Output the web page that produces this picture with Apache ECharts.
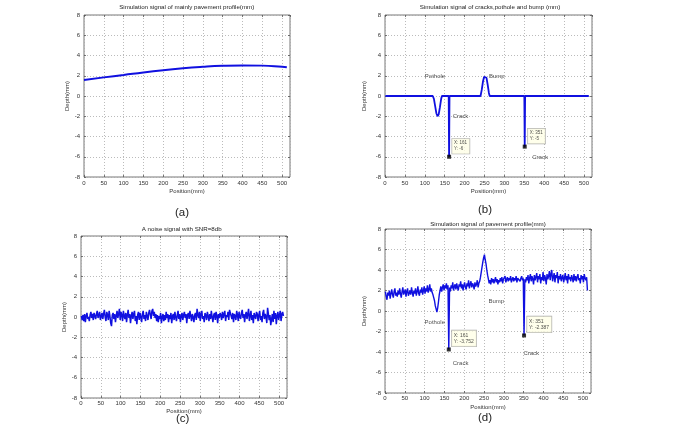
<!DOCTYPE html>
<html><head><meta charset="utf-8">
<script src="https://cdn.jsdelivr.net/npm/echarts@6/dist/echarts.min.js"></script>
<style>html,body{margin:0;padding:0;background:#fff}#c{width:685px;height:428px}</style>
</head><body><div id="c"></div>
<script>
// (a) mainly pavement profile
const profileX = [0,50,100,150,200,250,300,350,400,450,500,512];
const profileY = [1.58,1.84,2.08,2.33,2.55,2.74,2.88,2.98,3.02,3.0,2.88,2.84];
// (b) cracks, pothole and bump
const defectX = [1,120,123,126,129,132,135,138,141,143,160,161,162,240,243,246,249,252,255,258,261,263,350,351,352,512];
const defectY = [0,0,-0.3,-1.0,-1.7,-2.0,-1.8,-1.1,-0.3,0,0,-6,0,0,0.6,1.4,1.9,2.0,1.8,1.1,0.3,0,0,-5,0,0];
// (c) noise, sampled every 2 mm from 1 to 511
const noiseY = [
0.1,-0.3,0.2,-0.4,0.3,-0.5,0.1,0.4,-0.2,0.0,-0.4,0.2,0.5,-0.1,0.3,-0.3,
0.4,0.1,-0.2,0.3,0.6,-0.1,0.2,0.5,-0.3,0.1,0.4,-0.2,0.3,0.7,0.0,-0.4,
0.5,0.2,-0.3,0.6,0.1,-0.6,-0.9,0.2,0.4,-0.2,0.3,-0.5,0.1,0.6,-0.1,0.3,
0.8,-0.3,0.5,0.2,-0.4,0.6,0.1,-0.2,0.4,-0.5,0.2,0.7,-0.1,0.3,-0.6,0.1,
0.5,-0.2,0.3,0.6,-0.4,0.1,-0.7,0.2,0.5,-0.3,0.4,0.0,-0.5,0.3,0.6,-0.2,
0.2,-0.4,0.5,0.1,-0.3,0.4,0.7,0.2,-0.2,0.6,0.8,0.1,0.5,-0.1,0.3,-0.4,
0.2,-0.5,0.1,-0.2,0.4,-0.6,0.0,0.3,-0.4,0.2,-0.3,0.5,-0.1,0.3,-0.5,0.2,
-0.2,0.4,-0.6,0.1,0.3,-0.3,0.5,0.0,-0.4,0.2,0.6,-0.2,0.3,-0.5,0.1,0.4,
-0.3,0.2,0.5,-0.1,0.3,-0.6,0.2,0.4,-0.2,0.6,0.1,-0.4,0.3,0.0,-0.5,0.2,
0.4,-0.3,0.8,0.2,-0.1,0.5,-0.4,0.3,0.6,-0.2,0.1,-0.5,0.4,0.2,-0.3,0.5,
0.1,-0.4,0.3,-0.2,0.6,0.0,-0.5,0.2,0.4,-0.3,0.5,0.1,-0.6,0.3,-0.1,0.4,
0.2,-0.3,0.5,-0.1,0.3,0.6,-0.4,0.2,0.0,0.5,-0.3,0.7,0.8,0.1,-0.2,0.4,
-0.5,0.3,0.1,-0.3,0.6,0.2,-0.4,0.5,0.0,-0.2,0.4,0.7,-0.1,0.3,-0.5,0.2,
0.5,-0.2,0.3,0.8,-0.4,0.1,0.6,-0.3,0.2,-0.6,0.4,0.1,-0.2,0.5,0.3,-0.4,
0.2,0.6,-0.3,0.1,-0.5,0.4,0.7,-0.2,0.3,0.0,-0.6,0.9,1.0,-0.3,0.2,-0.8,
-0.9,0.3,-0.5,0.6,-0.2,0.4,-0.7,0.1,0.5,-0.3,0.2,0.6,-0.4,0.3,0.5,0.1];
// (d) full simulated pavement profile, sampled every 2 mm from 1 to 511
const pavementY = [
1.9,1.4,1.1,1.8,1.5,2.0,1.2,1.7,2.1,1.6,1.3,1.9,2.2,1.5,1.8,1.4,
2.0,1.6,2.2,1.7,1.3,1.9,2.3,1.6,1.8,2.1,1.4,1.9,2.2,1.5,1.7,2.0,
1.6,2.3,1.8,1.4,2.0,1.7,2.2,1.5,1.9,2.4,1.7,1.5,2.1,1.8,2.3,1.6,
2.0,2.4,1.7,2.2,1.9,2.5,1.8,2.1,2.6,1.9,2.2,1.8,1.6,1.3,1.0,0.5,
0.2,-0.1,0.3,0.9,1.6,2.0,2.4,1.9,2.3,2.6,2.0,2.5,2.2,2.7,2.1,2.5,
-3.752,2.3,1.9,2.5,2.2,2.8,2.0,2.4,2.6,2.1,2.7,2.3,2.0,2.6,2.4,2.9,
2.2,2.6,2.0,2.5,2.8,2.3,2.1,2.7,2.4,3.0,2.2,2.6,2.9,2.3,2.7,2.5,
2.1,2.8,2.4,2.6,3.0,2.3,2.7,2.9,3.3,3.8,4.3,4.8,5.2,5.5,5.0,4.6,
4.0,3.5,3.1,2.7,3.0,2.6,3.2,2.8,3.1,2.7,3.0,3.3,2.8,3.1,2.6,3.0,
2.8,3.2,2.9,3.3,2.7,3.1,3.0,3.4,2.8,3.1,3.3,2.9,3.2,3.0,3.4,2.8,
3.1,3.3,2.9,3.2,3.0,3.4,2.8,3.2,3.1,3.3,2.9,3.2,3.4,3.0,3.2,-2.387,
3.1,2.8,3.3,3.0,3.5,2.7,3.2,3.6,2.9,3.4,3.1,2.6,3.5,3.0,3.3,3.7,
2.8,3.4,3.1,3.6,2.7,3.3,3.0,3.8,2.9,3.5,3.2,2.6,3.6,3.1,3.4,3.9,
3.0,3.6,4.0,2.9,3.3,3.7,2.8,3.5,3.2,3.8,2.7,3.4,3.1,3.6,2.9,3.3,
3.5,2.8,3.2,3.7,3.0,3.4,2.7,3.6,3.1,3.3,2.9,3.5,3.2,2.8,3.6,3.0,
3.4,2.9,3.3,3.6,3.0,3.2,2.7,3.5,3.1,3.4,2.8,3.6,3.2,3.0,3.3,2.0];
// data tips
const tipsB = [[161,-6],[351,-5]];
const tipsD = [[161,-3.752],[351,-2.387]];
// annotations
const noteTextB = ['Pothole','Bump','Crack','Crack'];
const noteXB = [100,261,170,370];
const noteYB = [1.95,1.95,-2.04,-6.05];
const noteTextD = ['Bump','Pothole','Crack','Crack'];
const noteXD = [261,100,171,349.5];
const noteYD = [0.9,-1.09,-5.07,-4.09];
const titles = ['Simulation signal of mainly pavement profile(mm)','Simulation signal of cracks,pothole and bump (mm)','A noise signal with SNR=8db','Simulation signal of pavement profile(mm)'];
const panelLabels = ['(a)','(b)','(c)','(d)'];

const samplePos = [];
for (let k = 0; k < noiseY.length; k++) samplePos.push(1 + 2 * k);

const font = '"Liberation Sans", Arial, sans-serif';
const grids = [
  {left:84, top:15, width:206, height:162},
  {left:385, top:15, width:207, height:162},
  {left:81, top:236, width:206, height:162},
  {left:385, top:229, width:206, height:164}
];
const xNameGap = [11.7,11.7,10.4,11];
const xLabMargin = [3,3,2,2.5];
const yNameGap = [11,18,11.5,18];
const tickStyle = {inside:true, length:2, lineStyle:{color:'#555', width:0.8}};
const hiddenLine = {show:false, onZero:false};
const xAxes = [], yAxes = [];
grids.forEach((g,i)=>{
  g.show = true; g.borderColor = '#555'; g.borderWidth = 0.8; g.backgroundColor = '#fff';
  xAxes.push({type:'value', gridIndex:i, min:0, max:520, interval:50, position:'bottom',
    axisLine:hiddenLine, axisTick:tickStyle,
    axisLabel:{fontSize:6, color:'#333', margin:xLabMargin[i], showMaxLabel:false, fontFamily:font},
    splitLine:{show:true, lineStyle:{color:'#aaa', type:[1,2], width:0.8}},
    name:'Position(mm)', nameLocation:'middle', nameGap:xNameGap[i],
    nameTextStyle:{fontSize:6, color:'#333', fontFamily:font}});
  xAxes.push({type:'value', gridIndex:i, min:0, max:520, interval:50, position:'top',
    axisLine:hiddenLine, axisTick:tickStyle, axisLabel:{show:false}, splitLine:{show:false}});
  yAxes.push({type:'value', gridIndex:i, min:-8, max:8, interval:2, position:'left',
    axisLine:hiddenLine, axisTick:tickStyle,
    axisLabel:{fontSize:6, color:'#333', margin:4, fontFamily:font},
    splitLine:{show:true, lineStyle:{color:'#aaa', type:[1,2], width:0.8}},
    name:'Depth(mm)', nameLocation:'middle', nameGap:yNameGap[i], nameRotate:90,
    nameTextStyle:{fontSize:6, color:'#333', fontFamily:font}});
  yAxes.push({type:'value', gridIndex:i, min:-8, max:8, interval:2, position:'right',
    axisLine:hiddenLine, axisTick:tickStyle, axisLabel:{show:false}, splitLine:{show:false}});
});

const blue = '#1010e0';
function lineSeries(i, data, w, smooth){
  return {type:'line', xAxisIndex:2*i, yAxisIndex:2*i, data:data, showSymbol:false, symbol:'none',
    smooth:!!smooth, lineStyle:{color:blue, width:w}, itemStyle:{color:blue}, z:3, silent:true};
}
function noteSeries(i, texts, xs, ys){
  return {type:'scatter', xAxisIndex:2*i, yAxisIndex:2*i, symbolSize:0, silent:true, z:5,
    data: texts.map((t,k)=>({name:t, value:[xs[k], ys[k]]})),
    label:{show:true, formatter:'{b}', position:[0,0], align:'left', verticalAlign:'middle',
      fontSize:6, color:'#222', fontFamily:font}};
}
function tipSeries(i, pts, fs){
  return {type:'scatter', xAxisIndex:2*i, yAxisIndex:2*i, symbol:'rect', symbolSize:4, silent:true, z:6,
    itemStyle:{color:'#000'}, data:pts,
    label:{show:true, formatter:p=>'X: '+p.value[0]+'\nY: '+p.value[1], position:[5,-1],
      align:'left', verticalAlign:'bottom', fontSize:fs, lineHeight:fs+1.5, color:'#222', fontFamily:font,
      backgroundColor:'#ffffe6', borderColor:'#999', borderWidth:0.6, padding:[1.5,2.5,1.5,2]}};
}

const graphic = [];
const titlePos = [[186.7,7.3],[490,7],[181.7,229],[488,224]];
const labelPos = [[182,213],[485,210],[182.7,419],[485,418]];
titles.forEach((t,i)=>graphic.push({type:'text', x:titlePos[i][0], y:titlePos[i][1],
  style:{text:t, align:'center', verticalAlign:'middle', fontSize:6.2, fill:'#222', fontFamily:font}}));
panelLabels.forEach((t,i)=>graphic.push({type:'text', x:labelPos[i][0], y:labelPos[i][1],
  style:{text:t, align:'center', verticalAlign:'middle', fontSize:11.5, fill:'#222', fontFamily:font}}));

const option = {
  animation:false, backgroundColor:'#fff',
  grid:grids, xAxis:xAxes, yAxis:yAxes, graphic:graphic,
  series:[
    lineSeries(0, profileX.map((x,k)=>[x, profileY[k]]), 2, true),
    lineSeries(1, defectX.map((x,k)=>[x, defectY[k]]), 1.8, false),
    noteSeries(1, noteTextB, noteXB, noteYB),
    tipSeries(1, tipsB, 4.5),
    lineSeries(2, samplePos.map((x,k)=>[x, noiseY[k]]), 1.5, false),
    lineSeries(3, samplePos.map((x,k)=>[x, pavementY[k]]), 1.4, false),
    noteSeries(3, noteTextD, noteXD, noteYD),
    tipSeries(3, tipsD, 5)
  ]
};
const chart = echarts.init(document.getElementById('c'), null, {renderer:'canvas'});
chart.setOption(option);
</script></body></html>
